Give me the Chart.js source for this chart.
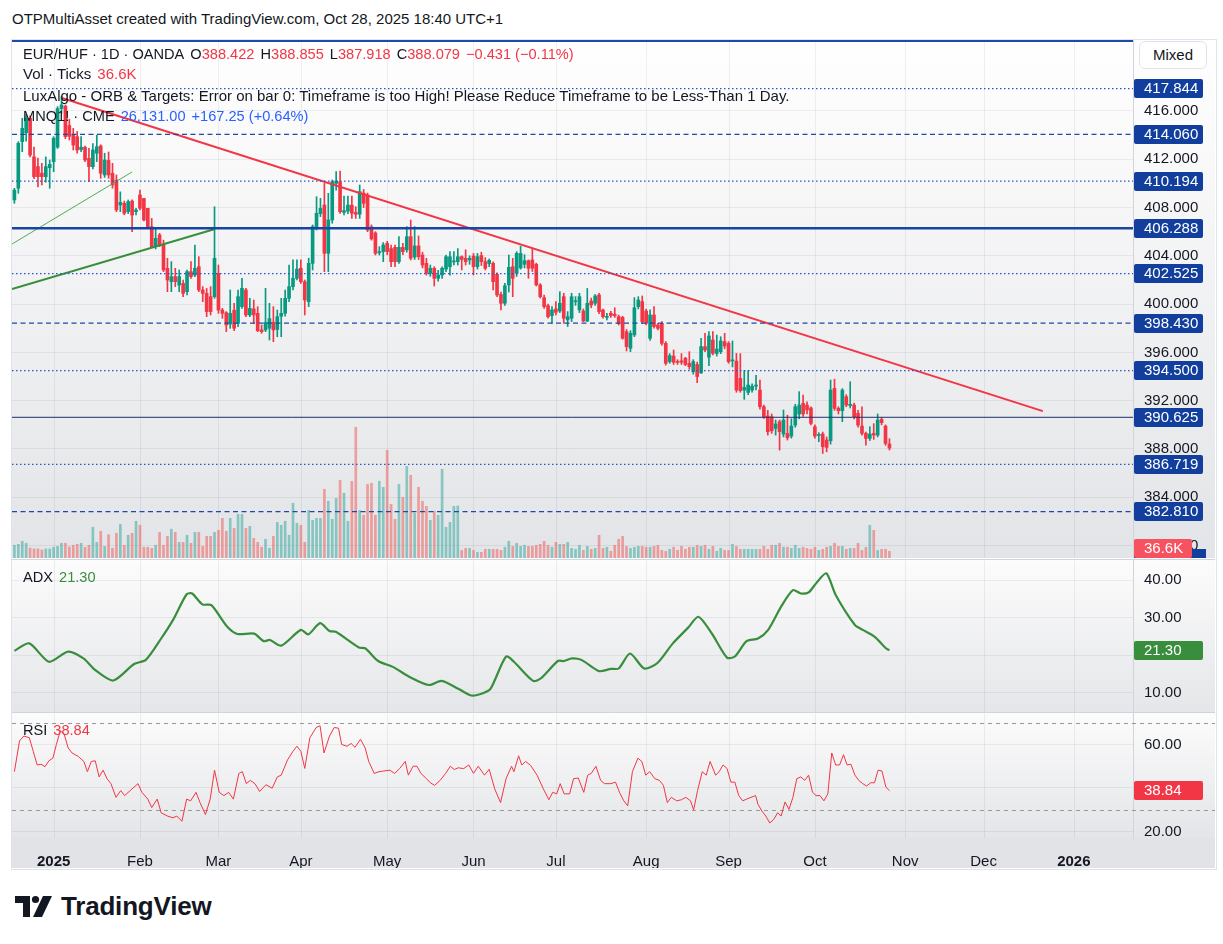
<!DOCTYPE html>
<html>
<head>
<meta charset="utf-8">
<title>EUR/HUF 1D</title>
<script src="https://cdn.jsdelivr.net/npm/chart.js@4.4.1/dist/chart.umd.min.js"></script>
<style>
  html, body { margin: 0; padding: 0; background: #fff; }
  body { width: 1223px; height: 944px; position: relative; overflow: hidden;
         font-family: "Liberation Sans", Arial, sans-serif; color: #131722; }
  .abs { position: absolute; white-space: nowrap; }
  canvas { position: absolute; left: 12px; }
  #frame { left: 11px; top: 39px; width: 1204px; height: 829px; border: 1px solid #e0e3eb; }
  #title { left: 12px; top: 10px; font-size: 15px; }
  .lg { left: 23px; font-size: 15px; line-height: 18px; }
  .lg.sm { font-size: 14.6px; }
  .lg span + span { margin-left: 6px; }
  .red { color: #f23645; } .grn { color: #388e3c; } .blu { color: #2962ff; }
  #mixed { left: 1139px; top: 41px; width: 68px; height: 28px; border: 1px solid #e0e3eb; border-radius: 6px;
           background: #fff; font-size: 15px; line-height: 26px; text-align: center; box-sizing: border-box; }
  #logo { left: 15px; top: 893px; }
  #logoText { left: 61px; top: 891px; font-size: 26px; font-weight: bold; letter-spacing: -0.2px; }
</style>
</head>
<body>
<div id="title" class="abs">OTPMultiAsset created with TradingView.com, Oct 28, 2025 18:40 UTC+1</div>
<div id="frame" class="abs"></div>
<canvas id="mainChart" width="1203" height="518" style="top:40px"></canvas>
<canvas id="adxChart" width="1203" height="153" style="top:559px"></canvas>
<canvas id="rsiChart" width="1203" height="156" style="top:712px"></canvas>

<div class="abs lg sm" style="top:45px"><span>EUR/HUF · 1D · OANDA</span><span>O<span class="red">388.422</span></span><span>H<span class="red">388.855</span></span><span>L<span class="red">387.918</span></span><span>C<span class="red">388.079</span></span><span class="red">−0.431 (−0.11%)</span></div>
<div class="abs lg" style="top:65px"><span>Vol · Ticks</span><span class="red">36.6K</span></div>
<div class="abs lg" style="top:87px">LuxAlgo - ORB &amp; Targets: Error on bar 0: Timeframe is too High! Please Reduce Timeframe to be Less-Than 1 Day.</div>
<div class="abs lg sm" style="top:107px"><span>MNQ1! · CME</span><span class="blu">26,131.00</span><span class="blu">+167.25 (+0.64%)</span></div>
<div class="abs lg sm" style="top:568px"><span>ADX</span><span class="grn">21.30</span></div>
<div class="abs lg sm" style="top:721px"><span>RSI</span><span class="red">38.84</span></div>
<div id="mixed" class="abs">Mixed</div>

<svg id="logo" class="abs" width="40" height="26" viewBox="0 0 40 26">
  <path d="M0 3 H15 V24 H8 V10 H0 Z" fill="#131722"/>
  <circle cx="20.5" cy="6.5" r="3.6" fill="#131722"/>
  <path d="M28 3 H37 L27 24 H18 Z" fill="#131722"/>
</svg>
<div id="logoText" class="abs">TradingView</div>

<script>
// ---- data (bar index 0 = mid Dec 2024, 223 = Oct 28 2025) ----
const candleOpen = [
  408.63,409.6,413.46,414.2,415.4,412.2,411.4,410.85,410.56,411.3,
  411.8,413.0,416.2,416.4,414.8,414.0,413.87,412.8,413.0,412.08,
  411.39,412.5,413.1,410.7,411.9,410.84,410.28,408.21,408.35,407.66,
  408.54,407.66,409.04,408.76,407.94,406.42,404.76,405.73,404.9,402.97,
  401.86,402.28,401.58,401.72,401.03,402.69,402.41,403.1,401.17,400.89,
  400.62,400.62,402.55,399.51,399.29,398.35,399.5,398.4,399.8,401.17,
  399.1,399.6,399.24,397.86,397.86,398.0,398.5,397.9,399.0,399.24,
  400.48,401.45,402.14,402.97,401.86,400.2,403.38,406.42,407.5,408.21,
  404.21,406.97,410.0,410.14,407.6,407.7,408.2,407.6,407.45,409.2,
  409.04,406.4,405.9,404.25,404.35,405.04,404.6,404.7,403.52,404.7,
  404.5,405.59,403.9,404.82,404.07,403.38,402.55,402.97,402.14,402.41,
  402.9,403.1,403.5,403.52,403.93,403.8,403.66,403.98,403.1,404.02,
  403.52,403.36,403.38,402.47,400.8,400.07,401.59,403.1,402.55,403.0,
  403.3,403.6,403.66,403.3,401.59,400.54,399.87,399.05,399.6,399.43,
  400.62,398.69,398.83,400.2,399.52,399.43,398.6,400.26,400.07,400.76,
  399.52,398.9,399.24,399.16,398.96,398.9,397.72,396.34,397.45,399.79,
  400.21,399.43,397.17,399.1,398.27,398.41,396.75,395.24,395.7,395.24,
  395.3,395.51,395.1,394.4,395.0,394.3,396.48,395.6,397.03,395.92,
  396.06,396.89,396.75,395.3,395.28,393.85,392.88,392.69,392.88,393.2,
  392.88,391.5,390.73,390.67,389.7,390.26,389.24,389.29,389.07,389.98,
  390.9,391.78,391.64,391.4,389.84,389.12,389.24,388.74,388.68,393.02,
  391.37,391.17,392.33,391.6,391.64,390.95,389.9,389.29,388.88,389.29,
  389.15,390.45,389.9,388.422
];
const candleHigh = [
  409.6,413.46,415.39,415.7,415.6,413.0,412.1,411.66,412.2,411.94,
  413.87,416.36,417.2,416.5,415.3,414.56,414.3,413.87,413.1,412.9,
  413.3,414.0,413.2,412.5,412.6,411.66,410.7,409.3,408.54,408.63,
  408.63,407.94,409.45,408.76,407.94,407.1,406.28,405.87,405.3,403.8,
  403.52,402.97,402.83,402.0,402.83,403.52,404.9,403.93,401.45,401.3,
  401.45,408.07,403.24,399.65,399.38,401.17,400.07,401.17,402.14,401.31,
  400.48,400.34,399.79,398.27,401.31,400.07,399.79,399.51,400.48,401.17,
  403.24,403.66,403.66,403.66,402.0,403.8,406.56,408.9,408.76,410.0,
  409.18,410.28,410.97,411.03,408.96,408.96,408.96,408.07,409.87,409.5,
  409.2,406.56,406.0,404.76,405.1,405.2,404.9,404.9,405.59,405.04,
  406.42,406.97,406.42,405.65,404.3,403.8,403.24,403.1,402.8,403.1,
  404.07,404.35,404.35,404.6,404.0,404.5,404.0,404.2,404.2,404.3,
  403.85,403.74,403.5,402.6,401.0,401.73,404.07,403.8,404.35,404.8,
  404.1,403.66,404.63,403.4,401.7,400.76,400.0,399.79,400.21,401.03,
  400.9,399.38,400.9,400.62,400.9,399.6,401.3,400.5,400.8,400.9,
  399.6,399.24,399.4,399.7,399.1,399.0,397.9,397.8,400.54,400.62,
  400.68,399.6,399.52,399.79,398.4,398.55,396.9,395.9,396.2,395.4,
  395.9,395.6,396.06,395.4,395.2,397.16,397.58,397.72,397.72,397.44,
  397.3,397.58,396.9,396.95,395.92,395.9,394.5,394.5,393.4,394.1,
  393.7,391.64,391.2,390.9,390.4,390.4,391.23,390.8,390.5,391.7,
  392.75,392.47,391.9,391.5,390.0,389.35,389.4,389.0,393.71,393.78,
  391.5,393.0,392.5,393.57,391.8,391.2,391.5,389.4,389.84,390.1,
  390.9,390.6,390.0,388.855
];
const candleLow = [
  408.35,409.18,412.63,413.5,412.2,410.4,409.7,409.87,410.1,409.6,
  410.97,412.9,415.8,413.7,413.6,412.77,412.5,412.63,411.8,410.14,
  411.2,411.8,410.42,410.5,410.42,409.6,407.66,407.66,407.4,407.5,
  406.0,407.38,407.8,406.89,406.28,404.7,404.57,404.76,402.69,401.03,
  401.03,401.45,401.03,400.62,400.76,402.14,402.28,401.03,400.2,398.96,
  399.1,400.48,399.24,398.82,397.72,398.0,397.8,398.13,399.65,398.96,
  398.96,398.41,397.72,397.58,397.72,397.03,396.89,397.3,397.3,399.0,
  400.2,401.17,402.0,401.72,399.1,399.79,402.83,406.14,407.25,402.69,
  402.69,406.7,409.45,407.52,407.38,407.5,407.1,407.1,407.1,408.0,
  406.0,405.3,404.07,404.07,403.52,404.1,403.1,403.1,403.38,404.1,
  404.3,403.66,403.7,403.7,403.0,402.4,402.3,401.5,401.9,402.14,
  402.69,402.4,403.24,403.24,402.83,403.24,403.3,402.42,402.9,403.2,
  402.83,403.1,401.17,400.62,399.52,399.9,401.0,400.62,402.3,402.9,
  403.0,402.14,402.7,401.5,400.5,399.65,398.83,398.41,399.1,399.3,
  398.41,398.14,398.55,399.9,399.3,398.55,398.55,399.7,399.9,399.2,
  398.83,398.69,398.9,398.9,398.27,397.1,396.12,396.06,397.3,399.6,
  398.4,398.27,397.0,398.0,397.86,396.6,394.95,395.1,395.0,395.0,
  395.0,394.9,394.6,394.2,393.5,394.26,396.06,394.9,395.8,395.7,
  395.9,396.3,395.1,394.8,392.7,392.7,392.11,392.5,392.7,392.9,
  391.3,390.53,389.15,389.3,389.15,387.91,389.0,388.74,388.9,389.8,
  390.5,390.7,390.9,390.0,388.9,388.6,387.63,387.77,388.4,391.2,
  390.9,390.26,391.5,391.4,390.5,389.8,389.15,388.32,388.7,388.8,
  389.0,390.0,388.3,387.918
];
const candleClose = [
  409.45,413.32,414.56,415.4,412.35,410.56,410.56,410.56,411.39,411.58,
  413.74,416.2,416.5,413.87,413.9,413.18,412.77,413.0,411.94,411.39,
  412.77,413.04,410.84,411.94,410.7,409.87,407.8,408.43,407.52,408.49,
  407.38,407.8,407.94,406.97,406.42,404.76,405.45,404.9,402.83,402.0,
  402.28,401.86,402.28,400.89,402.69,402.28,402.97,401.17,400.89,399.38,
  399.38,403.8,399.51,399.24,398.27,399.24,398.0,400.62,401.31,399.1,
  399.65,399.1,397.8,397.72,398.49,398.8,397.86,398.96,399.24,400.48,
  401.45,402.14,402.9,401.86,400.34,403.38,406.42,407.52,407.94,404.21,
  406.97,410.14,410.2,407.66,407.75,408.21,407.52,407.45,409.32,408.35,
  406.14,405.4,404.21,404.35,404.9,404.35,403.52,403.52,404.7,404.35,
  405.59,403.8,404.82,403.93,403.24,402.55,402.97,402.14,402.41,402.97,
  403.93,403.93,403.55,403.93,403.7,403.52,403.8,403.1,403.93,403.52,
  402.97,403.63,401.86,400.76,400.07,401.53,403.05,402.14,404.21,404.2,
  403.6,402.97,402.97,401.59,400.62,399.79,398.96,399.52,399.32,400.07,
  398.83,398.96,400.62,400.26,400.62,398.6,400.07,399.93,400.68,399.38,
  398.96,398.96,399.05,399.05,398.41,397.17,396.48,397.58,399.7,400.34,
  398.55,398.41,399.1,398.14,397.99,396.75,395.1,395.73,395.18,395.18,
  395.18,395.0,394.82,395.24,394.0,396.48,396.2,397.36,395.92,396.28,
  396.95,396.53,395.23,395.37,392.88,392.83,393.1,393.3,393.2,393.3,
  391.5,390.67,389.43,389.51,390.07,389.43,390.4,388.93,389.9,391.5,
  391.64,390.9,391.23,390.12,389.07,389.16,388.19,388.13,392.88,391.37,
  391.17,392.88,391.64,391.7,390.67,389.98,389.29,388.88,389.24,389.15,
  390.4,390.18,388.46,388.079
];
// tick volume, thousands
const volumeK = [
  70,75,92,81,55,50,50,44,50,50,
  59,64,81,81,61,70,75,81,59,70,
  169,86,147,64,128,53,136,185,70,125,
  136,202,180,59,59,53,70,141,70,119,
  158,141,86,86,125,81,141,141,64,119,
  119,141,152,218,147,218,163,240,240,163,
  174,108,86,59,103,53,119,196,180,202,
  125,301,191,180,86,262,207,218,218,378,
  312,213,328,427,356,202,422,719,262,235,
  405,411,235,422,389,592,295,213,405,334,
  504,455,246,389,312,284,207,257,235,488,
  169,196,284,286,42,53,53,42,31,31,
  48,48,48,48,42,59,92,64,81,64,
  70,64,64,70,75,92,70,59,86,75,
  75,86,53,48,70,42,64,48,53,125,
  53,59,37,70,103,119,64,53,59,64,
  64,59,59,64,70,42,37,48,59,42,
  64,48,59,59,70,64,70,48,64,37,
  53,42,42,75,64,48,48,48,48,48,
  48,64,48,70,70,81,59,59,53,70,
  53,59,53,48,59,42,48,59,64,81,
  64,64,48,53,53,81,42,59,180,152,
  42,48,48,36.6
];

const adxIdx = [0,3.8,8.8,13.7,17.6,20.6,25.2,30.5,33.5,37.4,40.4,43.9,45.3,47.9,50.2,54.2,56.8,61.1,63.5,65.1,
  68.0,73.0,74.9,77.9,80.3,81.9,87.8,89.4,92.7,96.7,100.6,105.6,108.9,113.1,116.4,119.4,121.4,125.3,127.3,132.2,
  134.2,138.5,140.1,142.1,144.5,149.0,152.0,154.0,156.9,160.5,163.8,167.8,171.7,174.3,177.7,181.6,183.6,186.6,189.5,192.1,
  195.4,198.4,200.4,202.4,204.3,206.9,209.3,214.2,216.2,219.2,222.1,223];
const adxVal = [21.1,23.1,18.2,20.9,19.1,16.0,13.2,17.6,18.7,24.4,29.3,36.2,36.4,33.5,33.3,27.6,25.6,25.7,23.7,24.0,
  22.5,26.7,25.5,28.5,26.4,26.2,22.0,21.8,18.4,16.7,14.2,12.0,13.1,11.0,9.2,9.8,11.1,19.6,18.2,13.1,
  13.8,18.4,18.4,19.1,18.7,15.7,16.3,16.4,20.4,16.4,17.8,23.1,27.3,30.2,25.8,19.3,19.6,23.7,24.4,26.7,
  32.9,37.3,36.4,36.7,39.1,41.8,36.0,28.0,26.7,24.9,21.8,21.3];

const rsiIdx = [0,1.3,2.4,3.8,4.8,5.8,6.8,7.8,8.8,9.8,10.7,11.7,12.7,13.7,14.7,16.3,17.7,18.6,19.6,20.6,
  21.6,22.6,23.6,24.6,25.9,27.1,28.1,29.5,31.5,32.5,34.0,35.0,36.4,37.4,39.0,40.4,41.4,42.7,43.9,44.9,
  46.3,47.3,48.7,49.9,51.0,52.2,53.4,54.6,55.8,57.2,58.1,59.1,60.1,61.3,62.5,64.1,65.7,67.0,68.0,69.6,
  71.0,72.0,73.0,74.0,75.3,76.9,77.9,78.9,80.3,81.5,82.6,83.4,84.8,85.8,86.8,88.2,89.4,90.3,91.7,92.9,
  94.1,95.7,96.9,98.2,99.6,100.4,101.6,102.6,103.6,105.0,106.0,107.1,108.5,109.9,111.1,112.1,113.1,114.5,115.8,117.0,
  118.2,119.8,121.0,122.4,123.9,125.3,126.7,127.3,128.5,129.3,130.3,131.6,133.2,134.8,136.2,137.2,138.2,139.1,140.1,141.5,
  142.5,143.7,145.1,146.1,147.0,148.2,149.4,150.4,152.0,153.2,154.2,155.3,156.3,157.5,158.9,159.9,160.9,161.9,163.2,164.4,
  165.4,166.4,167.4,168.8,170.0,171.1,172.3,173.1,174.1,175.3,176.3,177.3,178.7,179.6,180.6,181.6,182.6,183.6,184.6,185.6,
  186.6,187.7,188.9,189.5,190.5,191.5,192.5,193.5,194.5,195.4,196.4,197.4,198.4,199.4,200.4,201.4,202.4,203.4,204.3,205.3,
  206.3,207.3,208.3,209.3,210.3,211.3,212.2,213.2,214.2,215.2,216.2,217.2,218.2,219.2,220.1,221.1,222.1,223];
const rsiVal = [47.5,61.6,63.9,63.1,56.9,50.6,50.9,49.8,52.5,53.7,60.0,66.3,64.7,58.4,56.1,54.5,52.2,47.5,52.2,52.5,
  45.1,48.2,44.3,42.0,35.7,38.8,36.5,38.8,42.0,38.0,34.9,31.0,34.9,28.6,27.1,26.3,27.1,24.7,34.9,34.1,
  38.0,33.3,27.8,34.9,48.2,38.0,36.5,38.0,34.9,46.7,47.5,42.0,43.5,42.0,38.4,41.5,39.9,45.1,45.9,52.9,
  56.9,59.2,56.9,49.0,63.1,67.8,68.6,56.1,63.9,67.8,67.5,60.0,59.2,60.5,58.7,62.4,58.4,52.2,46.7,47.5,
  47.8,48.2,46.7,49.0,52.2,45.9,50.0,50.0,46.7,44.3,42.4,41.2,43.5,46.7,50.0,48.5,49.3,48.9,50.6,46.7,
  50.0,45.9,48.6,39.6,33.3,44.3,50.0,47.5,54.8,50.6,52.2,50.3,45.9,39.6,34.6,38.0,37.3,42.0,37.3,37.3,
  44.3,44.6,38.0,45.9,46.7,50.0,43.5,42.0,42.0,42.7,38.0,34.1,31.8,47.5,53.7,52.2,45.9,47.5,44.3,43.5,
  41.2,33.3,35.7,34.1,34.6,35.7,34.1,29.9,38.8,47.5,45.9,52.2,45.9,47.5,50.6,49.0,42.7,42.7,36.5,34.1,
  34.9,35.7,36.5,32.5,29.4,27.1,23.9,25.5,28.6,27.1,33.6,30.2,35.7,44.3,45.1,43.5,45.9,38.0,36.5,36.5,
  34.1,37.3,56.1,50.6,50.6,55.3,50.6,50.9,45.9,43.5,42.0,40.9,42.4,42.4,48.2,47.8,40.4,38.8];

// axis ticks
const monthTickIdx = [10,32,52,73,95,117,138,161,182,204,227,247,270];
const monthTickLabels = ['2025','Feb','Mar','Apr','May','Jun','Jul','Aug','Sep','Oct','Nov','Dec','2026'];
const priceTicks = [416,412,408,404,400,396,392,388,384,380];
const adxTicks = [10,20,30,40];
const rsiTicks = [20,40,60];

// drawn levels and trend lines (bar index, price)
const levelPrices = [417.844,414.060,410.194,406.288,402.525,398.430,394.500,390.625,386.719,382.810];
const levelKinds  = ['dot','dash','dot','thick','dot','dash','dot','thin','dot','dash'];
const redTrendIdx = [12.1, 262.1];
const redTrendPrice = [417.08, 391.14];
const greenThickIdx = [-0.6, 51.1];
const greenThickPrice = [401.25, 406.22];
const greenThinIdx = [-0.6, 30.0];
const greenThinPrice = [404.98, 410.95];

// ---- chart setup ----
const FONT = '"Liberation Sans", Arial, sans-serif';
Chart.defaults.font.family = FONT;
Chart.defaults.color = '#131722';
Chart.defaults.animation = false;

const X_MIN = -0.61, X_MAX = 285.07, AXIS_W = 82;
const UP = '#089981', DOWN = '#f23645';
const GRID = 'rgba(42,46,57,0.07)';

const idx = candleOpen.map((_, i) => i);
const upDown = idx.map(i => candleClose[i] >= candleOpen[i]);

function yAxisFit(scale) { scale.width = AXIS_W; scale.paddingTop = 0; scale.paddingBottom = 0; }

const levelStyle = {
  dot:   { color: '#2456c8', width: 1.3, dash: [1.5, 2.5] },
  dash:  { color: '#1d4aa3', width: 1.3, dash: [5, 3.5] },
  thick: { color: '#1745a3', width: 2.5, dash: [] },
  thin:  { color: '#1d306e', width: 1, dash: [] }
};

function drawBox(ctx, area, y, text, bg, w) {
  const h = 19;
  ctx.fillStyle = bg;
  ctx.beginPath();
  ctx.roundRect(area.right + 1, Math.round(y - h / 2), w || 69, h, 2);
  ctx.fill();
  ctx.fillStyle = '#ffffff';
  ctx.font = '15px ' + FONT;
  ctx.textAlign = 'left';
  ctx.textBaseline = 'middle';
  ctx.fillText(text, area.right + 11, y + 0.5);
}

function panePlugin(cfg) {
  return {
    id: 'pane_' + cfg.name,
    beforeDraw(chart) {
      const { ctx, width, height, chartArea } = chart;
      ctx.save();
      const g = ctx.createLinearGradient(0, 0, 0, chartArea.bottom);
      g.addColorStop(0, cfg.bgTop);
      g.addColorStop(1, cfg.bgBottom);
      ctx.fillStyle = g;
      ctx.fillRect(0, 0, width, chartArea.bottom);
      if (chartArea.bottom < height) {
        ctx.fillStyle = '#e2e3e6';
        ctx.fillRect(0, chartArea.bottom, width, height - chartArea.bottom);
      }
      ctx.restore();
    },
    beforeDatasetsDraw(chart) {
      const { ctx, chartArea, scales } = chart;
      ctx.save();
      ctx.strokeStyle = GRID;
      ctx.lineWidth = 1;
      monthTickIdx.forEach(v => {
        const px = Math.round(scales.x.getPixelForValue(v)) + 0.5;
        ctx.beginPath(); ctx.moveTo(px, chartArea.top); ctx.lineTo(px, chartArea.bottom); ctx.stroke();
      });
      (cfg.bands || []).forEach(v => {
        const py = Math.round(scales.y.getPixelForValue(v)) + 0.5;
        ctx.strokeStyle = '#9598a1';
        ctx.setLineDash([4, 4]);
        ctx.beginPath(); ctx.moveTo(chartArea.left, py); ctx.lineTo(chartArea.right + AXIS_W, py); ctx.stroke();
      });
      ctx.restore();
    },
    afterDatasetsDraw(chart) {
      if (!cfg.levels) return;
      const { ctx, chartArea, scales } = chart;
      ctx.save();
      ctx.beginPath(); ctx.rect(chartArea.left, chartArea.top, chartArea.right - chartArea.left, chartArea.bottom - chartArea.top); ctx.clip();
      levelPrices.forEach((p, k) => {
        const st = levelStyle[levelKinds[k]];
        const py = scales.y.getPixelForValue(p);
        ctx.strokeStyle = st.color;
        ctx.lineWidth = st.width;
        ctx.setLineDash(st.dash);
        ctx.beginPath(); ctx.moveTo(chartArea.left, py); ctx.lineTo(chartArea.right, py); ctx.stroke();
      });
      ctx.setLineDash([]);
      ctx.strokeStyle = '#1f4aa8';
      ctx.lineWidth = 2;
      ctx.beginPath(); ctx.moveTo(chartArea.left, chartArea.top + 1); ctx.lineTo(chartArea.right, chartArea.top + 1); ctx.stroke();
      ctx.restore();
    },
    afterDraw(chart) {
      const { ctx, chartArea, scales, width } = chart;
      ctx.save();
      if (cfg.levels) {
        levelPrices.forEach(p => drawBox(ctx, chartArea, scales.y.getPixelForValue(p), p.toFixed(3), '#123f9e'));
        // partly hidden label behind the volume tag
        ctx.fillStyle = '#123f9e';
        ctx.fillRect(chartArea.right + 1, chartArea.bottom - 9, 72, 9);
        const vy = Math.min(scales.yv.getPixelForValue(volumeK[volumeK.length - 1]), chartArea.bottom - 10);
        drawBox(ctx, chartArea, vy, '36.6K', '#f7525f', 58);
      }
      if (cfg.valueBox) {
        drawBox(ctx, chartArea, scales.y.getPixelForValue(cfg.valueBox.v), cfg.valueBox.v.toFixed(2), cfg.valueBox.bg);
      }
      if (cfg.topSep) {
        ctx.strokeStyle = '#d1d4dc';
        ctx.lineWidth = 1;
        ctx.beginPath(); ctx.moveTo(0, 0.5); ctx.lineTo(width, 0.5); ctx.stroke();
      }
      ctx.restore();
    }
  };
}

function xScale(display) {
  return {
    type: 'linear', min: X_MIN, max: X_MAX, offset: false, display: display,
    grid: { display: false }, border: { display: false },
    afterBuildTicks: s => { s.ticks = monthTickIdx.map(v => ({ value: v })); },
    afterFit: s => {
      s.height = display ? 30 : 0;
      s.paddingLeft = 0; s.paddingRight = 0;
    },
    ticks: {
      autoSkip: false, maxRotation: 0, padding: 7, color: '#131722',
      callback: (v, i) => monthTickLabels[i],
      font: c => ({ family: FONT, size: 15, weight: /^\d{4}$/.test(monthTickLabels[c.index] || '') ? 'bold' : 'normal' })
    }
  };
}

function yScale(min, max, ticks, fmt) {
  return {
    position: 'right', min: min, max: max,
    afterBuildTicks: s => { s.ticks = ticks.map(v => ({ value: v })); },
    afterFit: yAxisFit,
    grid: { color: GRID, drawTicks: false },
    border: { display: true, color: '#d1d4dc' },
    ticks: { padding: 11, crossAlign: 'near', color: '#131722', font: { size: 15 }, callback: fmt }
  };
}

const common = {
  responsive: false, maintainAspectRatio: false, animation: false,
  layout: { padding: 0 },
  plugins: { legend: { display: false }, tooltip: { enabled: false } },
  elements: { point: { radius: 0 } }
};

// main price pane
new Chart(document.getElementById('mainChart'), {
  type: 'bar',
  data: {
    datasets: [
      { type: 'line', order: 0, data: redTrendIdx.map((x, k) => ({ x, y: redTrendPrice[k] })), borderColor: '#f23645', borderWidth: 2, pointRadius: 0 },
      { type: 'line', order: 0, data: greenThickIdx.map((x, k) => ({ x, y: greenThickPrice[k] })), borderColor: '#388e3c', borderWidth: 2, pointRadius: 0 },
      { type: 'line', order: 0, data: greenThinIdx.map((x, k) => ({ x, y: greenThinPrice[k] })), borderColor: '#4caf50', borderWidth: 1, pointRadius: 0 },
      { order: 1, grouped: false, barThickness: 3, minBarLength: 1,
        data: idx.map(i => ({ x: i, y: [candleOpen[i], candleClose[i]] })),
        backgroundColor: idx.map(i => upDown[i] ? UP : DOWN) },
      { order: 2, grouped: false, barThickness: 1,
        data: idx.map(i => ({ x: i, y: [candleLow[i], candleHigh[i]] })),
        backgroundColor: idx.map(i => upDown[i] ? UP : DOWN) },
      { order: 3, grouped: false, barThickness: 2, yAxisID: 'yv',
        data: idx.map(i => ({ x: i, y: volumeK[i] })),
        backgroundColor: idx.map(i => upDown[i] ? 'rgba(38,166,154,0.5)' : 'rgba(239,83,80,0.5)') }
    ]
  },
  options: Object.assign({}, common, {
    scales: {
      x: xScale(false),
      y: yScale(378.97, 421.88, priceTicks, v => v.toFixed(3)),
      yv: { display: false, min: 0, max: 2849 }
    }
  }),
  plugins: [panePlugin({ name: 'main', bgTop: '#ffffff', bgBottom: '#e3e4e7', levels: true })]
});

// ADX pane
new Chart(document.getElementById('adxChart'), {
  type: 'line',
  data: { datasets: [{ data: adxIdx.map((x, k) => ({ x, y: adxVal[k] })), borderColor: '#388e3c', borderWidth: 2.2, pointRadius: 0, tension: 0.25 }] },
  options: Object.assign({}, common, {
    scales: {
      x: xScale(false),
      y: yScale(4.8, 45.6, adxTicks, v => v === 20 ? '' : v.toFixed(2))
    }
  }),
  plugins: [panePlugin({ name: 'adx', bgTop: '#fcfcfc', bgBottom: '#e5e6e9', valueBox: { v: 21.30, bg: '#388e3c' }, topSep: true })]
});

// RSI pane + time axis
new Chart(document.getElementById('rsiChart'), {
  type: 'line',
  data: { datasets: [{ data: rsiIdx.map((x, k) => ({ x, y: rsiVal[k] })), borderColor: '#f23645', borderWidth: 1, pointRadius: 0 }] },
  options: Object.assign({}, common, {
    scales: {
      x: xScale(true),
      y: yScale(17.01, 74.94, rsiTicks, v => v === 40 ? '' : v.toFixed(2))
    }
  }),
  plugins: [panePlugin({ name: 'rsi', bgTop: '#fcfcfc', bgBottom: '#e4e5e8', bands: [70, 30], valueBox: { v: 38.84, bg: '#f23645' }, topSep: true })]
});
</script>
</body>
</html>
